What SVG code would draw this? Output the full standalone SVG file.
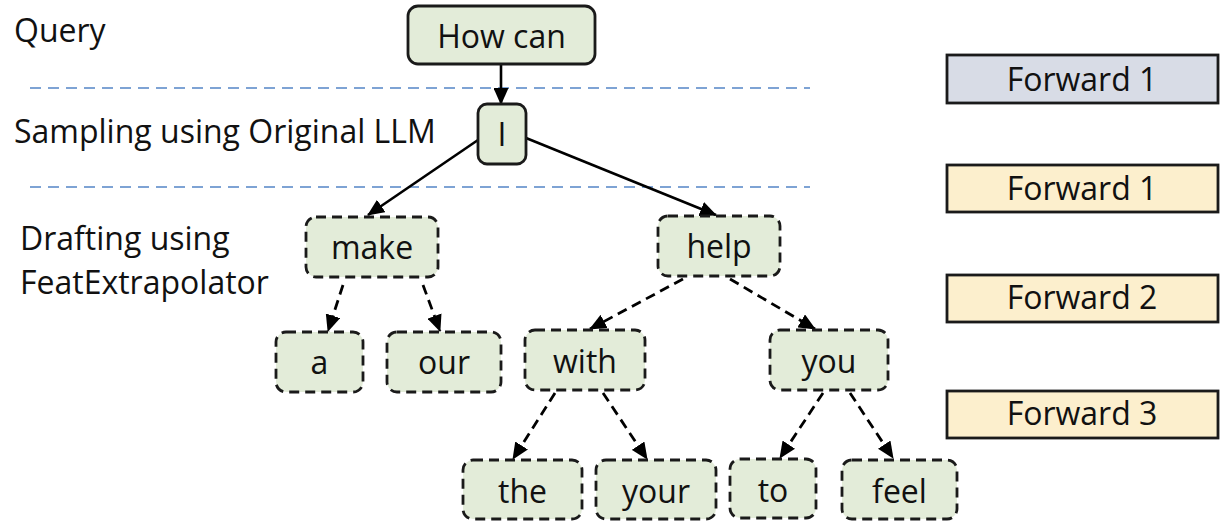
<svg xmlns="http://www.w3.org/2000/svg" width="1230" height="532" viewBox="0 0 1230 532">
<defs>
<marker id="ah" viewBox="0 0 17 15" refX="16" refY="7.5" markerWidth="17" markerHeight="15" markerUnits="userSpaceOnUse" orient="auto">
<path d="M0,0 L17,7.5 L0,15 Z" fill="#000"/>
</marker>
<style>
text{font-family:"Open Sans","Noto Sans",sans-serif;fill:#111;}
.lbl{font-size:32px;}
.nt{font-size:32px;text-anchor:middle;}
.solid{fill:#e3ecd9;stroke:#1a1a1a;stroke-width:2.8;}
.dash{fill:#e3ecd9;stroke:#1a1a1a;stroke-width:2.8;stroke-dasharray:10 6;}
.sep{stroke:#7ea3d4;stroke-width:2.2;stroke-dasharray:11 7;fill:none;}
.e{stroke:#000;stroke-width:2.6;fill:none;marker-end:url(#ah);}
.ed{stroke:#000;stroke-width:2.8;fill:none;stroke-dasharray:10 6;marker-end:url(#ah);}
.fw{stroke:#1a1a1a;stroke-width:2.8;}
.fwt{font-size:32px;text-anchor:middle;}
</style>
</defs>
<rect width="1230" height="532" fill="#fff"/>
<g id="labels">
<text class="lbl" x="14" y="42">Query</text>
<text class="lbl" x="14" y="143">Sampling using Original LLM</text>
<text class="lbl" x="20" y="250">Drafting using</text>
<text class="lbl" x="20" y="294">FeatExtrapolator</text>
</g>
<g id="separators">
<line class="sep" x1="30" y1="88" x2="810" y2="88"/>
<line class="sep" x1="30" y1="187" x2="810" y2="187"/>
</g>
<g id="connectors">
<line class="e" x1="501" y1="64" x2="501" y2="104"/>
<line class="e" x1="478" y1="140" x2="368" y2="215"/>
<line class="e" x1="526" y1="138" x2="716" y2="215"/>
<line class="ed" x1="343" y1="285" x2="328" y2="331"/>
<line class="ed" x1="423" y1="285" x2="440" y2="331"/>
<line class="ed" x1="683" y1="279" x2="590" y2="329"/>
<line class="ed" x1="730" y1="279" x2="815" y2="329"/>
<line class="ed" x1="555" y1="393" x2="513" y2="459"/>
<line class="ed" x1="603" y1="393" x2="647" y2="459"/>
<line class="ed" x1="823" y1="393" x2="780" y2="458"/>
<line class="ed" x1="850" y1="393" x2="893" y2="458"/>
</g>
<g id="n-howcan"><rect class="solid" x="408" y="6" width="187" height="58" rx="10"/><text class="nt" x="501.5" y="48">How can</text></g>
<g id="n-i"><rect class="solid" x="478" y="104" width="48" height="60" rx="9"/><text class="nt" x="502" y="146">I</text></g>
<g id="n-make"><rect class="dash" x="306" y="217" width="132" height="60" rx="10"/><text class="nt" x="372" y="259">make</text></g>
<g id="n-help"><rect class="dash" x="658" y="216" width="122" height="60" rx="10"/><text class="nt" x="719" y="258">help</text></g>
<g id="n-a"><rect class="dash" x="276" y="332" width="87" height="60" rx="10"/><text class="nt" x="319.5" y="374">a</text></g>
<g id="n-our"><rect class="dash" x="387" y="332" width="114" height="60" rx="10"/><text class="nt" x="444" y="374">our</text></g>
<g id="n-with"><rect class="dash" x="525" y="330" width="120" height="60" rx="10"/><text class="nt" x="585" y="373">with</text></g>
<g id="n-you"><rect class="dash" x="770" y="330" width="118" height="60" rx="10"/><text class="nt" x="829" y="373">you</text></g>
<g id="n-the"><rect class="dash" x="463" y="460" width="119" height="59" rx="10"/><text class="nt" x="522.5" y="503">the</text></g>
<g id="n-your"><rect class="dash" x="596" y="460" width="120" height="59" rx="10"/><text class="nt" x="656" y="503">your</text></g>
<g id="n-to"><rect class="dash" x="730" y="459" width="86" height="59" rx="10"/><text class="nt" x="773" y="502">to</text></g>
<g id="n-feel"><rect class="dash" x="842" y="460" width="115" height="59" rx="10"/><text class="nt" x="899.5" y="503">feel</text></g>
<g id="fw1a"><rect class="fw" x="947" y="55" width="271" height="48" fill="#d8dce6"/><text class="fwt" x="1082" y="91">Forward 1</text></g>
<g id="fw1b"><rect class="fw" x="947" y="165" width="271" height="47" fill="#fcefcd"/><text class="fwt" x="1082" y="200">Forward 1</text></g>
<g id="fw2"><rect class="fw" x="947" y="275" width="271" height="47" fill="#fcefcd"/><text class="fwt" x="1082" y="309">Forward 2</text></g>
<g id="fw3"><rect class="fw" x="947" y="391" width="271" height="47" fill="#fcefcd"/><text class="fwt" x="1082" y="425">Forward 3</text></g>
</svg>
